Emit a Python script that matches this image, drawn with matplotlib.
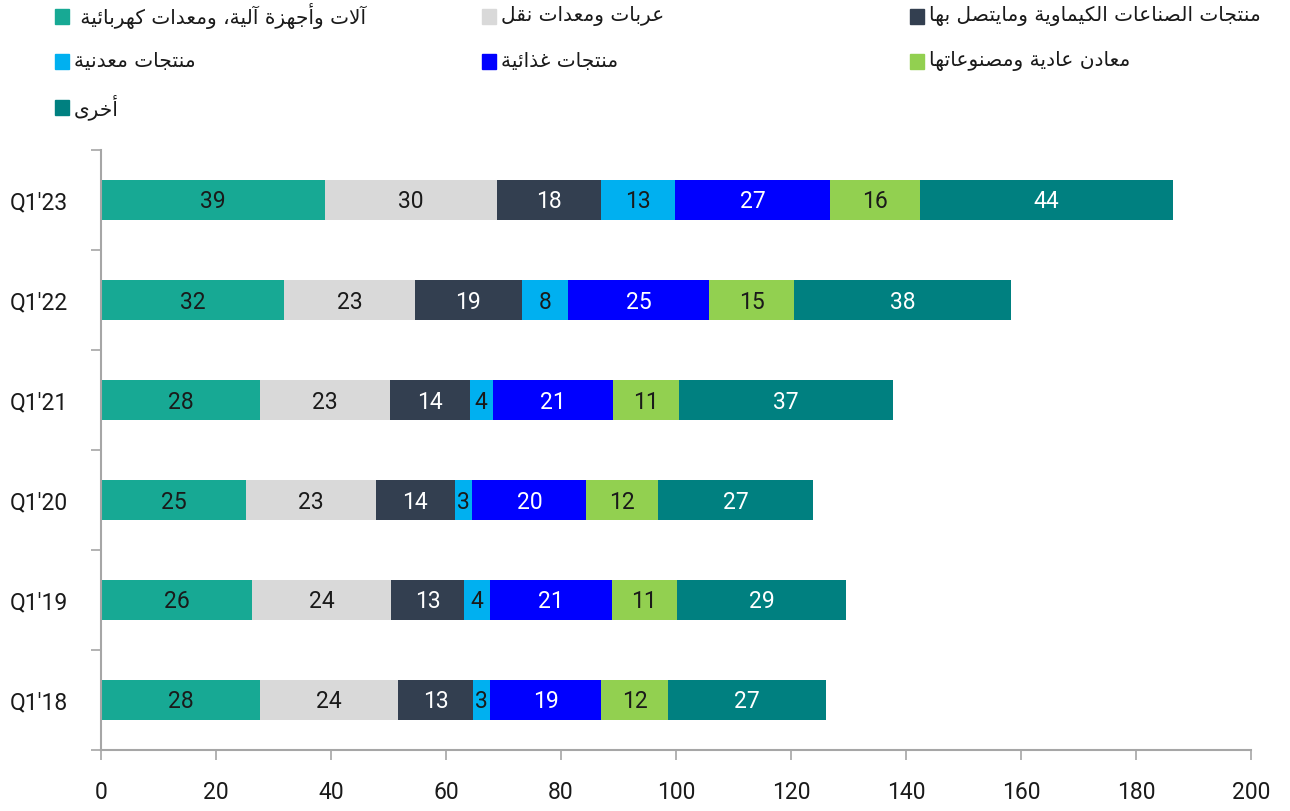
import matplotlib
matplotlib.use("Agg")
import matplotlib.pyplot as plt
from matplotlib.patches import Rectangle

QUARTERS = ["Q1'18", "Q1'19", "Q1'20", "Q1'21", "Q1'22", "Q1'23"]

MACHINERY = [27.7, 26.3, 25.2, 27.7, 31.8, 38.9]
VEHICLES = [24.0, 24.2, 22.6, 22.6, 22.8, 30.0]
CHEMICALS = [13.0, 12.7, 13.7, 13.8, 18.6, 18.0]
METAL_PRODUCTS = [2.9, 4.4, 3.1, 4.1, 8.0, 13.0]
FOOD = [19.4, 21.2, 19.8, 20.9, 24.6, 26.8]
BASE_METALS = [11.6, 11.4, 12.4, 11.4, 14.8, 15.7]
OTHER = [27.4, 29.4, 27.1, 37.2, 37.6, 44.0]

SERIES_NAMES = [
    "آلات وأجهزة آلية، ومعدات كهربائية ",
    "عربات ومعدات نقل",
    "منتجات الصناعات الكيماوية ومايتصل بها",
    "منتجات معدنية",
    "منتجات غذائية",
    "معادن عادية ومصنوعاتها",
    "أخرى",
]
SERIES_VALUES = [MACHINERY, VEHICLES, CHEMICALS, METAL_PRODUCTS, FOOD, BASE_METALS, OTHER]
COLORS = ["#17A994", "#D9D9D9", "#333F50", "#00B0F0", "#0000FF", "#92D050", "#008080"]
TEXT_COLORS = ["#1a1a1a", "#1a1a1a", "white", "#1a1a1a", "white", "#1a1a1a", "white"]

# minimal arabic shaping: matplotlib draws glyphs left to right without joining
DUAL = {
    "ئ": 0xFE89, "ب": 0xFE8F, "ت": 0xFE95, "ث": 0xFE99, "ج": 0xFE9D, "ح": 0xFEA1,
    "خ": 0xFEA5, "س": 0xFEB1, "ش": 0xFEB5, "ص": 0xFEB9, "ض": 0xFEBD, "ط": 0xFEC1,
    "ظ": 0xFEC5, "ع": 0xFEC9, "غ": 0xFECD, "ف": 0xFED1, "ق": 0xFED5, "ك": 0xFED9,
    "ل": 0xFEDD, "م": 0xFEE1, "ن": 0xFEE5, "ه": 0xFEE9, "ي": 0xFEF1,
}
RIGHT = {
    "آ": 0xFE81, "أ": 0xFE83, "ؤ": 0xFE85, "إ": 0xFE87, "ا": 0xFE8D, "ة": 0xFE93,
    "د": 0xFEA9, "ذ": 0xFEAB, "ر": 0xFEAD, "ز": 0xFEAF, "و": 0xFEED, "ى": 0xFEEF,
}
LIGATURES = {"لآ": 0xFEF5, "لأ": 0xFEF7, "لإ": 0xFEF9, "لا": 0xFEFB}
for code in LIGATURES.values():
    RIGHT[chr(code)] = code


def shape_arabic(text):
    for pair, code in LIGATURES.items():
        text = text.replace(pair, chr(code))
    out = []
    for i, ch in enumerate(text):
        base = DUAL.get(ch, RIGHT.get(ch))
        if base is None:
            out.append(ch)
            continue
        prev = text[i - 1] if i > 0 else ""
        nxt = text[i + 1] if i + 1 < len(text) else ""
        joins_prev = prev in DUAL
        joins_next = ch in DUAL and (nxt in DUAL or nxt in RIGHT)
        if joins_prev and joins_next:
            offset = 3
        elif joins_next:
            offset = 2
        elif joins_prev:
            offset = 1
        else:
            offset = 0
        out.append(chr(base + offset))
    return "".join(reversed(out))


NUM_FONT = "Roboto"
AR_FONT = "DejaVu Sans"
TEXT_DARK = "#1a1a1a"
AXIS_GRAY = "#A6A6A6"

fig = plt.figure(figsize=(12.9, 8.11), dpi=100)
W, H = 1290, 811
ax = fig.add_axes([101 / W, 1 - 750 / H, 1150 / W, 600 / H])

y = list(range(len(QUARTERS)))
left = [0.0] * len(QUARTERS)
for values, color, tcolor in zip(SERIES_VALUES, COLORS, TEXT_COLORS):
    ax.barh(y, values, left=left, height=0.4, color=color, linewidth=0)
    for yi, (l, v) in enumerate(zip(left, values)):
        ax.text(l + v / 2, yi - 0.02, f"{v:.0f}", ha="center", va="center",
                color=tcolor, fontsize=16.5, family=NUM_FONT)
    left = [l + v for l, v in zip(left, values)]

ax.set_xlim(0, 200)
ax.set_ylim(-0.5, 5.5)
ax.set_xticks(range(0, 201, 20))
ax.set_yticks(y)
ax.set_yticklabels(QUARTERS)
ax.set_yticks([i - 0.5 for i in range(len(QUARTERS) + 1)], minor=True)

for side in ["top", "right"]:
    ax.spines[side].set_visible(False)
for side in ["left", "bottom"]:
    ax.spines[side].set_color(AXIS_GRAY)
    ax.spines[side].set_linewidth(1.5)

ax.tick_params(axis="x", length=7, width=1.2, color=AXIS_GRAY, pad=15,
               labelsize=16.5, labelcolor=TEXT_DARK)
ax.tick_params(axis="y", which="major", length=0, pad=24,
               labelsize=16.5, labelcolor=TEXT_DARK)
ax.tick_params(axis="y", which="minor", length=7, width=1.2, color=AXIS_GRAY)
for lbl in ax.get_xticklabels() + ax.get_yticklabels():
    lbl.set_family(NUM_FONT)

# legend laid out row by row, three columns
legend_cols = [55, 482, 910]
legend_rows = [16, 61, 107]
for i, (name, color) in enumerate(zip(SERIES_NAMES, COLORS)):
    cx = legend_cols[i % 3]
    cy = legend_rows[i // 3]
    fig.patches.append(Rectangle((cx / W, 1 - (cy + 7.5) / H), 14 / W, 15 / H,
                                 transform=fig.transFigure, color=color))
    fig.text((cx + 19) / W, 1 - cy / H, shape_arabic(name), ha="left",
             va="center", fontsize=14.5, family=AR_FONT, color=TEXT_DARK)

fig.savefig("out.png", dpi=100)
